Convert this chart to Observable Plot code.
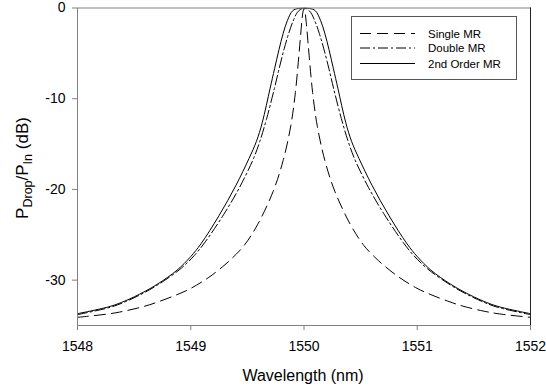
<!DOCTYPE html>
<html><head><meta charset="utf-8">
<script src="https://cdn.jsdelivr.net/npm/d3@7"></script>
<script src="https://cdn.jsdelivr.net/npm/@observablehq/plot@0.6"></script>
<style>body{margin:0;background:#fff} svg{display:block}</style>
</head><body><div id="chart"></div>
<script>
const seriesNames = ["Single MR", "Double MR", "2nd Order MR"];
const xTicks = [1548, 1549, 1550, 1551, 1552];
const yTicks = [0, -10, -20, -30];

const singleWl = [1548.000, 1548.287, 1548.419, 1548.587, 1548.711, 1548.879, 1549.002, 1549.170, 1549.302, 1549.364, 1549.470, 1549.589, 1549.728, 1549.816, 1549.883, 1549.924, 1549.955, 1549.968, 1549.980, 1549.990, 1550.000, 1550.010, 1550.020, 1550.032, 1550.045, 1550.076, 1550.117, 1550.184, 1550.272, 1550.411, 1550.530, 1550.636, 1550.698, 1550.830, 1550.998, 1551.121, 1551.289, 1551.413, 1551.581, 1551.713, 1552.000];
const singleDb = [-34.1, -33.7, -33.4, -32.9, -32.4, -31.6, -30.9, -29.6, -28.3, -27.6, -26.2, -23.9, -20.2, -16.8, -13.0, -9.3, -5.2, -3.3, -1.6, -0.5, 0, -0.5, -1.6, -3.3, -5.2, -9.3, -13.0, -16.8, -20.2, -23.9, -26.2, -27.6, -28.3, -29.6, -30.9, -31.6, -32.4, -32.9, -33.4, -33.7, -34.1];

const doubleWl = [1548.000, 1548.287, 1548.419, 1548.587, 1548.711, 1548.905, 1549.030, 1549.121, 1549.289, 1549.430, 1549.554, 1549.610, 1549.670, 1549.738, 1549.780, 1549.825, 1549.865, 1549.905, 1549.950, 1550.000, 1550.050, 1550.095, 1550.135, 1550.175, 1550.220, 1550.262, 1550.330, 1550.390, 1550.446, 1550.570, 1550.711, 1550.879, 1550.970, 1551.095, 1551.289, 1551.413, 1551.581, 1551.713, 1552.000];
const doubleDb = [-33.8, -33.0, -32.4, -31.4, -30.5, -28.8, -27.3, -25.9, -22.8, -19.8, -16.6, -14.7, -12.2, -8.9, -6.7, -4.5, -2.8, -1.4, -0.35, 0, -0.35, -1.4, -2.8, -4.5, -6.7, -8.9, -12.2, -14.7, -16.6, -19.8, -22.8, -25.9, -27.3, -28.8, -30.5, -31.4, -32.4, -33.0, -33.8];

const secondWl = [1548.000, 1548.287, 1548.419, 1548.587, 1548.711, 1548.879, 1549.000, 1549.090, 1549.249, 1549.397, 1549.514, 1549.580, 1549.632, 1549.700, 1549.740, 1549.779, 1549.816, 1549.853, 1549.900, 1549.950, 1550.000, 1550.050, 1550.100, 1550.147, 1550.184, 1550.221, 1550.260, 1550.300, 1550.368, 1550.420, 1550.486, 1550.603, 1550.751, 1550.910, 1551.000, 1551.121, 1551.289, 1551.413, 1551.581, 1551.713, 1552.000];
const secondDb = [-33.7, -32.9, -32.3, -31.3, -30.4, -28.9, -27.4, -26.0, -22.9, -19.6, -16.6, -14.7, -12.6, -8.9, -6.7, -4.6, -2.8, -1.4, -0.3, -0.05, 0, -0.05, -0.3, -1.4, -2.8, -4.6, -6.7, -8.9, -12.6, -14.7, -16.6, -19.6, -22.9, -26.0, -27.4, -28.9, -30.4, -31.3, -32.3, -32.9, -33.7];

const dashes = ["11,6", "10,3,2,3", null];
const wls = [singleWl, doubleWl, secondWl];
const dbs = [singleDb, doubleDb, secondDb];

const rows = seriesNames.map((name, i) => wls[i].map((wl, j) => ({name, wl, db: dbs[i][j]})));

const font = "'Liberation Sans', Arial, sans-serif";

const chart = Plot.plot({
  width: 546,
  height: 389,
  marginLeft: 77,
  marginRight: 16,
  marginTop: 7.5,
  marginBottom: 64,
  style: {fontFamily: font, fontSize: "14px", color: "black", background: "white"},
  x: {domain: [1548, 1552]},
  y: {domain: [-35, 0]},
  marks: [
    ...rows.map((r, i) => Plot.line(r, {x: "wl", y: "db", curve: "catmull-rom", stroke: "black", strokeWidth: 1, strokeDasharray: dashes[i], clip: true})),
    Plot.frame({stroke: "#808080"}),
    Plot.ruleX([1552], {stroke: "#222"}),
    Plot.axisX({ticks: xTicks, tickSize: 5, tickPadding: 11, stroke: "#808080", fill: "black", label: null, tickFormat: d => String(d)}),
    Plot.axisY({ticks: yTicks, tickSize: 5, tickPadding: 7, stroke: "#808080", fill: "black", label: null, tickFormat: d => String(d)})
  ]
});

const svg = d3.select(chart);
svg.append("text")
  .attr("x", 303).attr("y", 381)
  .attr("text-anchor", "middle")
  .style("font-family", font).style("font-size", "16px").attr("fill", "black")
  .text("Wavelength (nm)");

const yl = svg.append("text")
  .attr("transform", "translate(28,168) rotate(-90)")
  .attr("text-anchor", "middle")
  .style("font-family", font).style("font-size", "17px").attr("fill", "black");
yl.append("tspan").text("P");
yl.append("tspan").attr("dy", 4).style("font-size", "12.5px").text("Drop");
yl.append("tspan").attr("dy", -4).text("/P");
yl.append("tspan").attr("dy", 4).style("font-size", "12.5px").text("In");
yl.append("tspan").attr("dy", -4).text(" (dB)");

const lg = svg.append("g");
lg.append("rect").attr("x", 351.5).attr("y", 16.5).attr("width", 165).attr("height", 63)
  .attr("fill", "white").attr("stroke", "#555");
const rowY = [33.5, 48, 63.5];
seriesNames.forEach((name, i) => {
  lg.append("line").attr("x1", 360).attr("x2", 415).attr("y1", rowY[i]).attr("y2", rowY[i])
    .attr("stroke", "black").attr("stroke-width", 1).attr("stroke-dasharray", dashes[i]);
  lg.append("text").attr("x", 428).attr("y", rowY[i]).attr("dy", "0.35em")
    .attr("text-anchor", "start")
    .style("font-family", font).style("font-size", "11.5px").attr("fill", "black").text(name);
});

document.getElementById("chart").appendChild(chart);
</script>
</body></html>
